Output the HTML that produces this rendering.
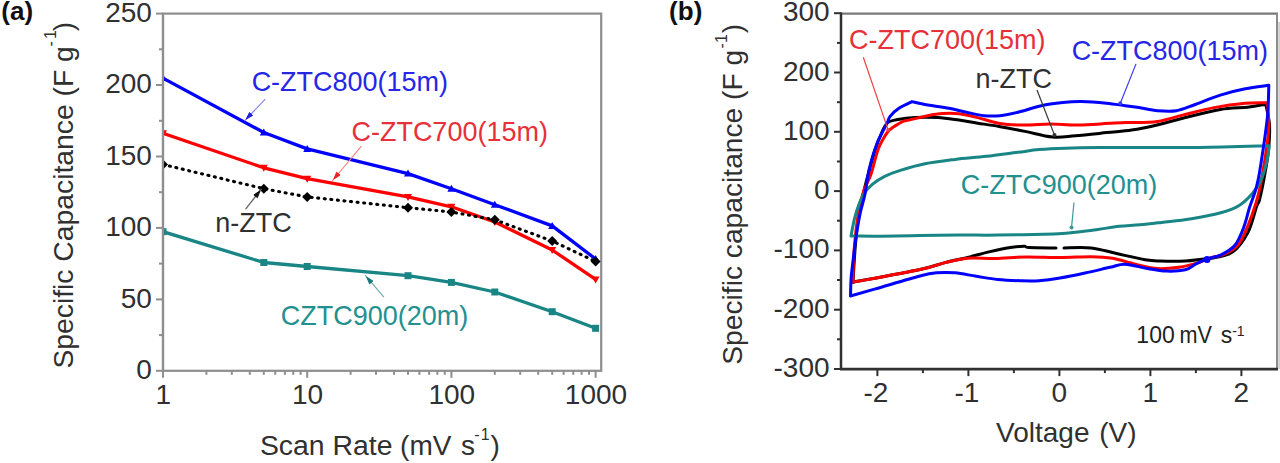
<!DOCTYPE html>
<html><head><meta charset="utf-8"><style>
html,body{margin:0;padding:0;background:#fff;}
svg{display:block;font-family:"Liberation Sans", sans-serif;}
</style></head><body>
<svg width="1280" height="463" viewBox="0 0 1280 463">
<rect width="1280" height="463" fill="#fff"/>
<rect x="163.0" y="13.6" width="438.20000000000005" height="357.2" fill="none" stroke="#8e8e8e" stroke-width="2.2"/>
<line x1="156.0" y1="370.8" x2="163.0" y2="370.8" stroke="#8e8e8e" stroke-width="2"/>
<line x1="159.0" y1="335.1" x2="163.0" y2="335.1" stroke="#8e8e8e" stroke-width="2"/>
<line x1="156.0" y1="299.4" x2="163.0" y2="299.4" stroke="#8e8e8e" stroke-width="2"/>
<line x1="159.0" y1="263.6" x2="163.0" y2="263.6" stroke="#8e8e8e" stroke-width="2"/>
<line x1="156.0" y1="227.9" x2="163.0" y2="227.9" stroke="#8e8e8e" stroke-width="2"/>
<line x1="159.0" y1="192.2" x2="163.0" y2="192.2" stroke="#8e8e8e" stroke-width="2"/>
<line x1="156.0" y1="156.5" x2="163.0" y2="156.5" stroke="#8e8e8e" stroke-width="2"/>
<line x1="159.0" y1="120.8" x2="163.0" y2="120.8" stroke="#8e8e8e" stroke-width="2"/>
<line x1="156.0" y1="85.0" x2="163.0" y2="85.0" stroke="#8e8e8e" stroke-width="2"/>
<line x1="159.0" y1="49.3" x2="163.0" y2="49.3" stroke="#8e8e8e" stroke-width="2"/>
<line x1="156.0" y1="13.6" x2="163.0" y2="13.6" stroke="#8e8e8e" stroke-width="2"/>
<line x1="163.0" y1="370.8" x2="163.0" y2="377.8" stroke="#8e8e8e" stroke-width="2"/>
<line x1="206.4" y1="370.8" x2="206.4" y2="374.8" stroke="#8e8e8e" stroke-width="2"/>
<line x1="231.8" y1="370.8" x2="231.8" y2="374.8" stroke="#8e8e8e" stroke-width="2"/>
<line x1="249.8" y1="370.8" x2="249.8" y2="374.8" stroke="#8e8e8e" stroke-width="2"/>
<line x1="263.8" y1="370.8" x2="263.8" y2="374.8" stroke="#8e8e8e" stroke-width="2"/>
<line x1="275.2" y1="370.8" x2="275.2" y2="374.8" stroke="#8e8e8e" stroke-width="2"/>
<line x1="284.9" y1="370.8" x2="284.9" y2="374.8" stroke="#8e8e8e" stroke-width="2"/>
<line x1="293.2" y1="370.8" x2="293.2" y2="374.8" stroke="#8e8e8e" stroke-width="2"/>
<line x1="300.6" y1="370.8" x2="300.6" y2="374.8" stroke="#8e8e8e" stroke-width="2"/>
<line x1="307.2" y1="370.8" x2="307.2" y2="377.8" stroke="#8e8e8e" stroke-width="2"/>
<line x1="350.6" y1="370.8" x2="350.6" y2="374.8" stroke="#8e8e8e" stroke-width="2"/>
<line x1="376.0" y1="370.8" x2="376.0" y2="374.8" stroke="#8e8e8e" stroke-width="2"/>
<line x1="394.0" y1="370.8" x2="394.0" y2="374.8" stroke="#8e8e8e" stroke-width="2"/>
<line x1="408.0" y1="370.8" x2="408.0" y2="374.8" stroke="#8e8e8e" stroke-width="2"/>
<line x1="419.4" y1="370.8" x2="419.4" y2="374.8" stroke="#8e8e8e" stroke-width="2"/>
<line x1="429.1" y1="370.8" x2="429.1" y2="374.8" stroke="#8e8e8e" stroke-width="2"/>
<line x1="437.4" y1="370.8" x2="437.4" y2="374.8" stroke="#8e8e8e" stroke-width="2"/>
<line x1="444.8" y1="370.8" x2="444.8" y2="374.8" stroke="#8e8e8e" stroke-width="2"/>
<line x1="451.4" y1="370.8" x2="451.4" y2="377.8" stroke="#8e8e8e" stroke-width="2"/>
<line x1="494.8" y1="370.8" x2="494.8" y2="374.8" stroke="#8e8e8e" stroke-width="2"/>
<line x1="520.2" y1="370.8" x2="520.2" y2="374.8" stroke="#8e8e8e" stroke-width="2"/>
<line x1="538.2" y1="370.8" x2="538.2" y2="374.8" stroke="#8e8e8e" stroke-width="2"/>
<line x1="552.2" y1="370.8" x2="552.2" y2="374.8" stroke="#8e8e8e" stroke-width="2"/>
<line x1="563.6" y1="370.8" x2="563.6" y2="374.8" stroke="#8e8e8e" stroke-width="2"/>
<line x1="573.3" y1="370.8" x2="573.3" y2="374.8" stroke="#8e8e8e" stroke-width="2"/>
<line x1="581.6" y1="370.8" x2="581.6" y2="374.8" stroke="#8e8e8e" stroke-width="2"/>
<line x1="589.0" y1="370.8" x2="589.0" y2="374.8" stroke="#8e8e8e" stroke-width="2"/>
<line x1="595.6" y1="370.8" x2="595.6" y2="377.8" stroke="#8e8e8e" stroke-width="2"/>
<text transform="translate(136.32,379.00) scale(1,1.0)" font-size="28" fill="#303030">0</text>
<text transform="translate(120.75,307.56) scale(1,1.0)" font-size="28" fill="#303030">50</text>
<text transform="translate(105.18,236.12) scale(1,1.0)" font-size="28" fill="#303030">100</text>
<text transform="translate(105.18,164.68) scale(1,1.0)" font-size="28" fill="#303030">150</text>
<text transform="translate(105.18,93.24) scale(1,1.0)" font-size="28" fill="#303030">200</text>
<text transform="translate(105.18,21.80) scale(1,1.0)" font-size="28" fill="#303030">250</text>
<text transform="translate(163.40,403.60) scale(1,1.0)" font-size="28" fill="#303030" text-anchor="middle">1</text>
<text transform="translate(307.60,403.60) scale(1,1.0)" font-size="28" fill="#303030" text-anchor="middle">10</text>
<text transform="translate(451.80,403.60) scale(1,1.0)" font-size="28" fill="#303030" text-anchor="middle">100</text>
<text transform="translate(596.00,403.60) scale(1,1.0)" font-size="28" fill="#303030" text-anchor="middle">1000</text>
<defs><clipPath id="clipA"><rect x="163.5" y="0" width="440" height="370"/></clipPath></defs>
<g clip-path="url(#clipA)">
<polyline points="163.0,231.7 263.8,262.5 307.2,266.5 408.0,275.7 451.4,282.4 494.8,292.0 552.2,311.7 595.6,328.3" fill="none" stroke="#1a8585" stroke-width="3.3" stroke-linejoin="round"/>
<rect x="159.5" y="228.2" width="7" height="7" fill="#1a8585"/>
<rect x="260.3" y="259.0" width="7" height="7" fill="#1a8585"/>
<rect x="303.7" y="263.0" width="7" height="7" fill="#1a8585"/>
<rect x="404.5" y="272.2" width="7" height="7" fill="#1a8585"/>
<rect x="447.9" y="278.9" width="7" height="7" fill="#1a8585"/>
<rect x="491.3" y="288.5" width="7" height="7" fill="#1a8585"/>
<rect x="548.7" y="308.2" width="7" height="7" fill="#1a8585"/>
<rect x="592.1" y="324.8" width="7" height="7" fill="#1a8585"/>
<polyline points="163.0,133.3 263.8,167.8 307.2,178.7 408.0,196.9 451.4,206.8 494.8,222.0 552.2,250.0 595.6,279.4" fill="none" stroke="#ff0000" stroke-width="3.3" stroke-linejoin="round"/>
<polygon points="159.0,130.3 167.0,130.3 163.0,137.3" fill="#ff0000"/>
<polygon points="259.8,164.8 267.8,164.8 263.8,171.8" fill="#ff0000"/>
<polygon points="303.2,175.7 311.2,175.7 307.2,182.7" fill="#ff0000"/>
<polygon points="404.0,193.9 412.0,193.9 408.0,200.9" fill="#ff0000"/>
<polygon points="447.4,203.8 455.4,203.8 451.4,210.8" fill="#ff0000"/>
<polygon points="490.8,219.0 498.8,219.0 494.8,226.0" fill="#ff0000"/>
<polygon points="548.2,247.0 556.2,247.0 552.2,254.0" fill="#ff0000"/>
<polygon points="591.6,276.4 599.6,276.4 595.6,283.4" fill="#ff0000"/>
<polyline points="163.0,78.1 263.8,132.5 307.2,148.9 408.0,173.6 451.4,188.7 494.8,204.7 552.2,225.9 595.6,259.0" fill="none" stroke="#0000ff" stroke-width="3.3" stroke-linejoin="round"/>
<polygon points="159.0,81.1 167.0,81.1 163.0,74.1" fill="#0000ff"/>
<polygon points="259.8,135.5 267.8,135.5 263.8,128.5" fill="#0000ff"/>
<polygon points="303.2,151.9 311.2,151.9 307.2,144.9" fill="#0000ff"/>
<polygon points="404.0,176.6 412.0,176.6 408.0,169.6" fill="#0000ff"/>
<polygon points="447.4,191.7 455.4,191.7 451.4,184.7" fill="#0000ff"/>
<polygon points="490.8,207.7 498.8,207.7 494.8,200.7" fill="#0000ff"/>
<polygon points="548.2,228.9 556.2,228.9 552.2,221.9" fill="#0000ff"/>
<polygon points="591.6,262.0 599.6,262.0 595.6,255.0" fill="#0000ff"/>
<polyline points="163.0,164.5 263.8,188.7 307.2,196.9 408.0,207.7 451.4,212.0 494.8,219.8 552.2,241.0 595.6,261.5" fill="none" stroke="#000" stroke-width="3.1" stroke-linejoin="round" stroke-dasharray="1 5.6" stroke-linecap="round"/>
<polygon points="158.0,164.5 163.0,159.5 168.0,164.5 163.0,169.5" fill="#000"/>
<polygon points="258.8,188.7 263.8,183.7 268.8,188.7 263.8,193.7" fill="#000"/>
<polygon points="302.2,196.9 307.2,191.9 312.2,196.9 307.2,201.9" fill="#000"/>
<polygon points="403.0,207.7 408.0,202.7 413.0,207.7 408.0,212.7" fill="#000"/>
<polygon points="446.4,212.0 451.4,207.0 456.4,212.0 451.4,217.0" fill="#000"/>
<polygon points="489.8,219.8 494.8,214.8 499.8,219.8 494.8,224.8" fill="#000"/>
<polygon points="547.2,241.0 552.2,236.0 557.2,241.0 552.2,246.0" fill="#000"/>
<polygon points="590.6,261.5 595.6,256.5 600.6,261.5 595.6,266.5" fill="#000"/>
</g>
<line x1="163.0" y1="13.6" x2="163.0" y2="370.8" stroke="#8e8e8e" stroke-width="2.2"/>
<line x1="265.2" y1="99.2" x2="244.5" y2="120.9" stroke="#8080f0" stroke-width="1.1"/>
<polygon points="246.2,119.1 249.5,112.5 252.6,115.5" fill="#2020e0" stroke="#2020e0" stroke-width="1" stroke-linejoin="round"/>
<line x1="361.4" y1="146.2" x2="332.2" y2="181.0" stroke="#f08080" stroke-width="1.1"/>
<polygon points="333.8,179.1 336.6,172.3 340.0,175.1" fill="#e82020" stroke="#e82020" stroke-width="1" stroke-linejoin="round"/>
<line x1="245.6" y1="209.2" x2="261.5" y2="188.8" stroke="#666" stroke-width="1.3"/>
<polygon points="260.0,190.8 257.4,197.6 253.9,194.9" fill="#111" stroke="#111" stroke-width="1" stroke-linejoin="round"/>
<line x1="383.9" y1="297.2" x2="365.1" y2="275.2" stroke="#70a8a8" stroke-width="1.1"/>
<polygon points="366.7,277.1 372.9,281.0 369.6,283.9" fill="#1a7a7a" stroke="#1a7a7a" stroke-width="1" stroke-linejoin="round"/>
<text transform="translate(251.63,91.20) scale(1.0,1.05)" font-size="27" fill="#2626e6">C-ZTC800(15m)</text>
<text transform="translate(351.43,140.90) scale(1.0,1.05)" font-size="27" fill="#e6303a">C-ZTC700(15m)</text>
<text transform="translate(215.21,232.30) scale(1.0,1.05)" font-size="27" fill="#303030">n-ZTC</text>
<text transform="translate(280.73,324.80) scale(1.0,1.05)" font-size="27" fill="#239090">CZTC900(20m)</text>
<text transform="translate(259.91,455.00) scale(1.0,1.0)" font-size="28.4" fill="#303030">Scan Rate</text>
<text transform="translate(400.06,455.00) scale(1.0,1.0)" font-size="28" fill="#303030">(mV</text>
<text transform="translate(461.02,455.00) scale(1.0,1.0)" font-size="28" fill="#303030">s</text>
<text transform="translate(474.29,439.50) scale(1.0,1.0)" font-size="16" fill="#303030">-</text>
<text transform="translate(480.78,439.50) scale(1.0,1.0)" font-size="16" fill="#303030">1</text>
<text transform="translate(490.54,455.00) scale(1.0,1.0)" font-size="28" fill="#303030">)</text>
<text transform="translate(72.80,368.59) rotate(-90)" font-size="28.3" fill="#303030">Specific Capacitance (F g</text>
<text transform="translate(56.00,46.56) rotate(-90)" font-size="16" fill="#303030">-</text>
<text transform="translate(56.00,39.12) rotate(-90)" font-size="16" fill="#303030">1</text>
<text transform="translate(72.80,31.16) rotate(-90)" font-size="28" fill="#303030">)</text>
<text transform="translate(1.29,20.30) scale(1.0,1.0)" font-size="26" fill="#111" font-weight="bold">(a)</text>
<line x1="841.0" y1="13.6" x2="1278.0" y2="13.6" stroke="#7a7a7a" stroke-width="2.2"/>
<line x1="1277.0" y1="13.4" x2="1277.0" y2="369.1" stroke="#8c8c8c" stroke-width="2"/>
<rect x="1278.2" y="22" width="1.8" height="347.1" fill="#d2d2d2"/>
<line x1="841.0" y1="12.4" x2="841.0" y2="370.1" stroke="#303030" stroke-width="2.5"/>
<line x1="840.0" y1="369.1" x2="1278.0" y2="369.1" stroke="#303030" stroke-width="2.8"/>
<line x1="834.0" y1="369.0" x2="841.0" y2="369.0" stroke="#303030" stroke-width="2"/>
<line x1="837.0" y1="339.3" x2="841.0" y2="339.3" stroke="#303030" stroke-width="2"/>
<line x1="834.0" y1="309.7" x2="841.0" y2="309.7" stroke="#303030" stroke-width="2"/>
<line x1="837.0" y1="280.0" x2="841.0" y2="280.0" stroke="#303030" stroke-width="2"/>
<line x1="834.0" y1="250.4" x2="841.0" y2="250.4" stroke="#303030" stroke-width="2"/>
<line x1="837.0" y1="220.7" x2="841.0" y2="220.7" stroke="#303030" stroke-width="2"/>
<line x1="834.0" y1="191.1" x2="841.0" y2="191.1" stroke="#303030" stroke-width="2"/>
<line x1="837.0" y1="161.5" x2="841.0" y2="161.5" stroke="#303030" stroke-width="2"/>
<line x1="834.0" y1="131.8" x2="841.0" y2="131.8" stroke="#303030" stroke-width="2"/>
<line x1="837.0" y1="102.2" x2="841.0" y2="102.2" stroke="#303030" stroke-width="2"/>
<line x1="834.0" y1="72.5" x2="841.0" y2="72.5" stroke="#303030" stroke-width="2"/>
<line x1="837.0" y1="42.9" x2="841.0" y2="42.9" stroke="#303030" stroke-width="2"/>
<line x1="834.0" y1="13.2" x2="841.0" y2="13.2" stroke="#303030" stroke-width="2"/>
<line x1="877.4" y1="369.1" x2="877.4" y2="376.1" stroke="#303030" stroke-width="2"/>
<line x1="922.9" y1="369.1" x2="922.9" y2="373.1" stroke="#303030" stroke-width="2"/>
<line x1="968.4" y1="369.1" x2="968.4" y2="376.1" stroke="#303030" stroke-width="2"/>
<line x1="1013.9" y1="369.1" x2="1013.9" y2="373.1" stroke="#303030" stroke-width="2"/>
<line x1="1059.4" y1="369.1" x2="1059.4" y2="376.1" stroke="#303030" stroke-width="2"/>
<line x1="1104.9" y1="369.1" x2="1104.9" y2="373.1" stroke="#303030" stroke-width="2"/>
<line x1="1150.4" y1="369.1" x2="1150.4" y2="376.1" stroke="#303030" stroke-width="2"/>
<line x1="1195.9" y1="369.1" x2="1195.9" y2="373.1" stroke="#303030" stroke-width="2"/>
<line x1="1241.4" y1="369.1" x2="1241.4" y2="376.1" stroke="#303030" stroke-width="2"/>
<text transform="translate(773.55,376.95) scale(1,1.0)" font-size="28" fill="#303030">-300</text>
<text transform="translate(773.55,317.67) scale(1,1.0)" font-size="28" fill="#303030">-200</text>
<text transform="translate(773.55,258.38) scale(1,1.0)" font-size="28" fill="#303030">-100</text>
<text transform="translate(814.02,199.10) scale(1,1.0)" font-size="28" fill="#303030">0</text>
<text transform="translate(782.88,139.82) scale(1,1.0)" font-size="28" fill="#303030">100</text>
<text transform="translate(782.88,80.53) scale(1,1.0)" font-size="28" fill="#303030">200</text>
<text transform="translate(782.88,21.25) scale(1,1.0)" font-size="28" fill="#303030">300</text>
<text transform="translate(875.90,402.30) scale(1,1.0)" font-size="28" fill="#303030" text-anchor="middle">-2</text>
<text transform="translate(966.90,402.30) scale(1,1.0)" font-size="28" fill="#303030" text-anchor="middle">-1</text>
<text transform="translate(1059.40,402.30) scale(1,1.0)" font-size="28" fill="#303030" text-anchor="middle">0</text>
<text transform="translate(1150.40,402.30) scale(1,1.0)" font-size="28" fill="#303030" text-anchor="middle">1</text>
<text transform="translate(1241.40,402.30) scale(1,1.0)" font-size="28" fill="#303030" text-anchor="middle">2</text>
<text transform="translate(996.08,442.30) scale(1.0,1.0)" font-size="28" fill="#303030">Voltage</text>
<text transform="translate(1099.26,442.30) scale(1.0,1.0)" font-size="28" fill="#303030">(V)</text>
<text transform="translate(742.20,364.68) rotate(-90)" font-size="28.2" fill="#303030">Specific capacitance (F g</text>
<text transform="translate(726.90,48.56) rotate(-90)" font-size="16" fill="#303030">-</text>
<text transform="translate(726.90,43.02) rotate(-90)" font-size="16" fill="#303030">1</text>
<text transform="translate(742.20,33.16) rotate(-90)" font-size="28" fill="#303030">)</text>
<text transform="translate(669.09,20.30) scale(1.0,1.0)" font-size="26" fill="#111" font-weight="bold">(b)</text>
<text transform="translate(1136.35,343.30) scale(1.0,1.0)" font-size="23" fill="#222">100</text>
<text transform="translate(1179.56,343.30) scale(0.94,1.0)" font-size="23" fill="#222">mV</text>
<text transform="translate(1220.66,343.30) scale(1.0,1.0)" font-size="23" fill="#222">s</text>
<text transform="translate(1232.18,336.20) scale(1.0,1.0)" font-size="14" fill="#222">-1</text>
<path d="M853.0,282.2 C853.3,276.8 854.2,260.4 855.0,250.0 C855.8,239.6 856.7,229.2 858.0,220.0 C859.3,210.8 861.3,202.5 863.0,195.0 C864.7,187.5 866.0,182.5 868.0,175.0 C870.0,167.5 872.7,157.2 875.0,150.0 C877.3,142.8 879.9,136.6 882.0,132.0 C884.1,127.4 885.2,124.6 887.6,122.6 C890.0,120.6 891.8,120.6 896.4,119.8 C901.0,119.0 908.3,118.0 915.2,117.6 C922.1,117.2 930.4,117.2 937.7,117.6 C945.0,118.0 952.3,119.2 959.0,120.1 C965.7,121.0 971.1,122.2 977.8,123.2 C984.5,124.2 991.2,125.0 999.1,126.4 C1007.0,127.8 1016.1,129.6 1025.0,131.4 C1033.9,133.2 1044.2,136.3 1052.6,137.0 C1061.0,137.7 1066.2,136.5 1075.2,135.8 C1084.2,135.1 1097.1,133.6 1106.5,132.6 C1115.9,131.6 1122.8,131.4 1131.6,130.1 C1140.4,128.8 1150.6,126.5 1159.1,124.5 C1167.6,122.5 1172.5,120.7 1182.7,118.2 C1192.9,115.7 1209.5,111.3 1220.3,109.5 C1231.1,107.7 1240.1,108.1 1247.7,107.2 C1255.3,106.3 1262.8,104.7 1265.8,104.2 C1266.4,107.7 1269.0,117.4 1269.5,125.0 C1270.0,132.6 1269.3,141.5 1268.5,150.0 C1267.7,158.5 1266.0,167.7 1264.5,176.0 C1263.0,184.3 1260.8,194.9 1259.5,200.0 C1258.2,205.1 1258.5,201.1 1256.6,206.5 C1254.7,211.9 1252.0,224.8 1248.0,232.4 C1244.0,240.0 1239.0,247.5 1232.9,251.8 C1226.8,256.1 1216.5,257.1 1211.3,258.3 C1206.1,259.5 1205.9,258.7 1201.6,259.2 C1197.3,259.7 1192.2,260.8 1185.3,261.1 C1178.4,261.4 1167.0,261.3 1160.3,261.1 C1153.6,260.9 1152.5,261.1 1145.2,259.8 C1137.9,258.5 1125.4,255.5 1116.4,253.5 C1107.4,251.5 1100.0,248.8 1091.3,247.9 C1082.6,247.0 1068.5,247.9 1064.0,247.9" fill="none" stroke="#000" stroke-width="3" stroke-linejoin="round" stroke-linecap="round"/>
<path d="M1056.0,248.1 C1051.5,248.0 1034.3,247.8 1029.0,247.5 C1023.7,247.2 1027.1,246.3 1024.0,246.3 C1020.9,246.3 1016.1,246.6 1010.2,247.5 C1004.4,248.4 996.0,250.2 988.9,251.9 C981.8,253.6 974.9,255.7 967.6,257.5 C960.3,259.3 952.9,260.6 945.0,262.6 C937.1,264.6 935.3,266.2 920.0,269.5 C904.7,272.8 864.2,280.1 853.0,282.2" fill="none" stroke="#000" stroke-width="3" stroke-linejoin="round" stroke-linecap="round"/>
<path d="M853.0,282.2 C853.1,278.5 853.1,267.9 853.5,260.0 C853.9,252.1 854.6,243.3 855.5,235.0 C856.4,226.7 857.6,217.5 859.0,210.0 C860.4,202.5 862.0,195.9 864.0,190.0 C866.0,184.1 868.6,181.0 870.9,174.4 C873.2,167.8 875.8,156.0 877.8,150.3 C879.8,144.6 880.9,143.2 882.6,140.0 C884.3,136.8 886.5,133.4 888.2,131.3 C889.9,129.2 890.3,129.2 892.6,127.6 C894.9,126.0 899.3,123.0 902.0,121.8 C904.7,120.5 904.6,121.1 908.9,120.1 C913.2,119.1 922.1,116.8 927.7,115.7 C933.4,114.6 937.6,113.9 942.8,113.6 C948.0,113.3 953.2,113.1 959.0,113.8 C964.8,114.5 971.0,116.0 977.8,117.6 C984.6,119.2 992.1,122.2 1000.0,123.5 C1007.9,124.8 1016.6,125.0 1025.0,125.1 C1033.3,125.2 1041.7,124.1 1050.1,124.1 C1058.5,124.1 1066.8,125.1 1075.2,125.1 C1083.6,125.1 1092.0,124.3 1100.3,123.9 C1108.6,123.5 1115.8,123.0 1125.3,122.6 C1134.8,122.2 1148.0,122.7 1157.6,121.4 C1167.2,120.2 1173.3,117.4 1182.7,115.1 C1192.1,112.8 1203.6,109.6 1214.0,107.6 C1224.4,105.6 1236.4,104.0 1245.3,103.2 C1254.2,102.4 1263.6,102.8 1267.3,102.7 C1267.5,106.5 1268.8,118.2 1268.8,125.3 C1268.8,132.3 1267.8,138.4 1267.0,145.0 C1266.2,151.6 1265.1,158.3 1264.0,165.0 C1262.9,171.7 1261.8,178.7 1260.5,185.0 C1259.2,191.3 1258.2,195.8 1256.0,203.0 C1253.8,210.2 1250.0,221.0 1247.0,228.0 C1244.0,235.0 1241.7,240.7 1238.0,245.0 C1234.3,249.3 1229.8,251.8 1225.0,254.0 C1220.2,256.2 1213.6,256.8 1209.1,258.3 C1204.6,259.8 1202.8,261.4 1197.8,262.9 C1192.8,264.4 1185.7,266.4 1179.0,267.3 C1172.3,268.2 1165.0,269.1 1157.7,268.6 C1150.4,268.1 1142.7,265.9 1135.2,264.2 C1127.7,262.5 1119.9,259.6 1112.6,258.3 C1105.3,257.1 1100.1,256.8 1091.3,256.7 C1082.5,256.6 1070.8,257.6 1060.0,257.6 C1049.2,257.6 1037.3,256.8 1026.5,256.9 C1015.7,257.0 1005.0,258.3 995.2,258.5 C985.4,258.7 976.0,257.5 967.6,258.2 C959.2,258.9 953.0,260.7 945.1,262.6 C937.2,264.5 935.4,266.2 920.0,269.5 C904.6,272.8 864.2,280.1 853.0,282.2" fill="none" stroke="#ff0000" stroke-width="3" stroke-linejoin="round" stroke-linecap="round"/>
<path d="M851.0,236.0 C851.6,233.1 853.2,223.9 854.5,218.7 C855.8,213.5 857.2,209.1 858.8,204.9 C860.4,200.7 861.7,197.1 864.0,193.7 C866.3,190.2 869.1,187.1 872.6,184.2 C876.1,181.3 880.1,178.7 884.7,176.4 C889.3,174.1 893.6,172.5 900.3,170.4 C907.0,168.3 915.9,165.6 925.0,163.8 C934.1,162.0 945.0,160.7 955.2,159.4 C965.5,158.2 976.1,157.5 986.5,156.3 C996.9,155.1 1009.0,153.4 1017.8,152.3 C1026.6,151.2 1031.2,150.3 1039.1,149.6 C1047.0,148.9 1054.8,148.5 1065.0,148.2 C1075.2,147.9 1089.5,147.7 1100.0,147.6 C1110.5,147.5 1111.2,147.4 1127.7,147.4 C1144.2,147.4 1175.5,147.8 1199.1,147.5 C1222.7,147.2 1257.6,146.1 1269.3,145.8 C1268.8,148.7 1267.8,157.6 1266.4,163.3 C1265.0,169.0 1263.3,175.1 1261.0,180.0 C1258.7,184.9 1256.4,188.8 1252.8,193.0 C1249.2,197.2 1244.4,202.2 1239.2,205.5 C1234.0,208.8 1229.9,210.2 1221.7,212.5 C1213.5,214.8 1200.0,217.3 1190.0,219.0 C1180.0,220.7 1169.9,221.4 1161.6,222.4 C1153.3,223.4 1147.1,224.2 1140.0,224.8 C1132.9,225.5 1126.1,225.5 1119.1,226.3 C1112.1,227.1 1105.5,228.4 1097.8,229.5 C1090.1,230.6 1080.1,231.9 1072.8,232.6 C1065.5,233.3 1066.5,233.5 1054.0,233.9 C1041.5,234.3 1013.3,234.9 997.6,235.1 C981.9,235.3 972.9,235.0 960.0,235.1 C947.1,235.2 933.1,235.3 920.0,235.5 C906.9,235.7 893.0,236.1 881.5,236.2 C870.0,236.3 856.1,236.0 851.0,236.0" fill="none" stroke="#1a8585" stroke-width="3" stroke-linejoin="round" stroke-linecap="round"/>
<path d="M850.5,296.0 C850.6,292.8 850.7,283.9 851.2,277.0 C851.8,270.1 853.0,261.3 853.8,254.5 C854.6,247.7 855.1,243.1 856.2,236.0 C857.3,228.9 859.0,218.7 860.5,211.8 C862.0,204.9 863.4,201.8 864.9,194.5 C866.4,187.2 867.3,176.9 869.4,168.3 C871.5,159.7 874.3,150.4 877.2,143.0 C880.1,135.6 884.8,128.0 886.9,123.6 C889.0,119.1 888.1,118.9 890.1,116.3 C892.1,113.7 895.2,110.7 898.9,108.2 C902.5,105.8 909.8,102.7 912.0,101.6 C914.6,102.2 921.5,103.9 927.7,105.0 C933.9,106.1 942.7,107.0 949.0,108.2 C955.3,109.4 959.4,110.8 965.3,112.0 C971.1,113.2 978.3,115.1 984.1,115.7 C989.9,116.3 994.2,116.3 1000.0,115.7 C1005.8,115.1 1011.9,113.7 1018.8,112.0 C1025.7,110.3 1034.1,107.3 1041.4,105.7 C1048.7,104.1 1056.0,103.3 1062.7,102.6 C1069.4,101.9 1074.2,101.5 1081.5,101.6 C1088.8,101.7 1099.2,102.5 1106.5,103.2 C1113.8,103.9 1119.9,105.0 1125.3,105.7 C1130.7,106.4 1133.4,106.8 1138.8,107.6 C1144.2,108.4 1151.3,110.2 1157.6,110.7 C1163.9,111.2 1170.1,111.7 1176.4,110.7 C1182.7,109.7 1187.9,107.1 1195.2,104.5 C1202.5,101.9 1212.0,97.7 1220.3,95.1 C1228.6,92.5 1237.2,90.4 1245.3,88.8 C1253.4,87.2 1264.9,85.9 1268.8,85.3 C1268.7,89.5 1268.4,103.6 1268.0,110.2 C1267.6,116.8 1267.1,120.0 1266.5,125.0 C1265.9,130.0 1265.3,134.2 1264.5,140.0 C1263.7,145.8 1262.5,153.7 1261.5,160.0 C1260.5,166.3 1259.6,172.7 1258.5,178.0 C1257.4,183.3 1256.5,187.1 1255.0,192.0 C1253.5,196.9 1251.5,201.3 1249.6,207.3 C1247.7,213.3 1246.0,221.7 1243.5,228.0 C1241.0,234.3 1238.6,240.8 1234.9,245.3 C1231.2,249.8 1225.8,252.5 1221.1,254.8 C1216.3,257.1 1210.7,257.5 1206.4,259.1 C1202.1,260.7 1198.7,262.5 1195.2,264.3 C1191.7,266.1 1190.1,268.7 1185.3,269.8 C1180.5,270.9 1172.8,271.3 1166.5,271.1 C1160.2,270.9 1154.6,269.8 1147.7,268.6 C1140.8,267.5 1131.5,264.4 1125.2,264.2 C1118.9,264.0 1116.8,265.8 1110.1,267.3 C1103.4,268.8 1093.3,271.2 1085.0,273.0 C1076.7,274.8 1067.7,276.7 1060.0,278.0 C1052.3,279.3 1045.6,280.2 1039.0,280.7 C1032.4,281.1 1027.2,280.9 1020.3,280.7 C1013.4,280.5 1005.0,280.2 997.7,279.5 C990.4,278.8 983.5,277.4 976.4,276.3 C969.3,275.2 961.8,273.4 955.1,272.8 C948.4,272.2 942.1,272.3 936.3,272.8 C930.4,273.3 930.3,273.3 920.0,276.0 C909.7,278.7 886.1,285.8 874.5,289.1 C862.9,292.4 854.5,294.9 850.5,296.0" fill="none" stroke="#0000ff" stroke-width="3" stroke-linejoin="round" stroke-linecap="round"/>
<circle cx="1207" cy="259.4" r="3.5" fill="#0000ff"/>
<line x1="863.3" y1="57.2" x2="888.2" y2="130.1" stroke="#f04040" stroke-width="1.2"/>
<circle cx="888.2" cy="130.1" r="2" fill="#f04040"/>
<line x1="1037" y1="90" x2="1054.5" y2="135.1" stroke="#333" stroke-width="1.2"/>
<circle cx="1054.5" cy="135.1" r="2" fill="#333"/>
<line x1="1136" y1="63.9" x2="1120.3" y2="103.2" stroke="#3c3cf0" stroke-width="1.2"/>
<circle cx="1120.3" cy="103.2" r="2" fill="#3c3cf0"/>
<line x1="1074" y1="202.5" x2="1071.5" y2="227.6" stroke="#3a9a9a" stroke-width="1.2"/>
<circle cx="1071.5" cy="227.6" r="2" fill="#3a9a9a"/>
<text transform="translate(849.03,48.50) scale(1.0,1.05)" font-size="27" fill="#e6303a">C-ZTC700(15m)</text>
<text transform="translate(1071.63,60.40) scale(1.0,1.05)" font-size="27" fill="#2626e6">C-ZTC800(15m)</text>
<text transform="translate(975.61,88.30) scale(1.0,1.05)" font-size="27" fill="#303030">n-ZTC</text>
<text transform="translate(960.73,193.90) scale(1.0,1.05)" font-size="27" fill="#239090">C-ZTC900(20m)</text>
</svg></body></html>
